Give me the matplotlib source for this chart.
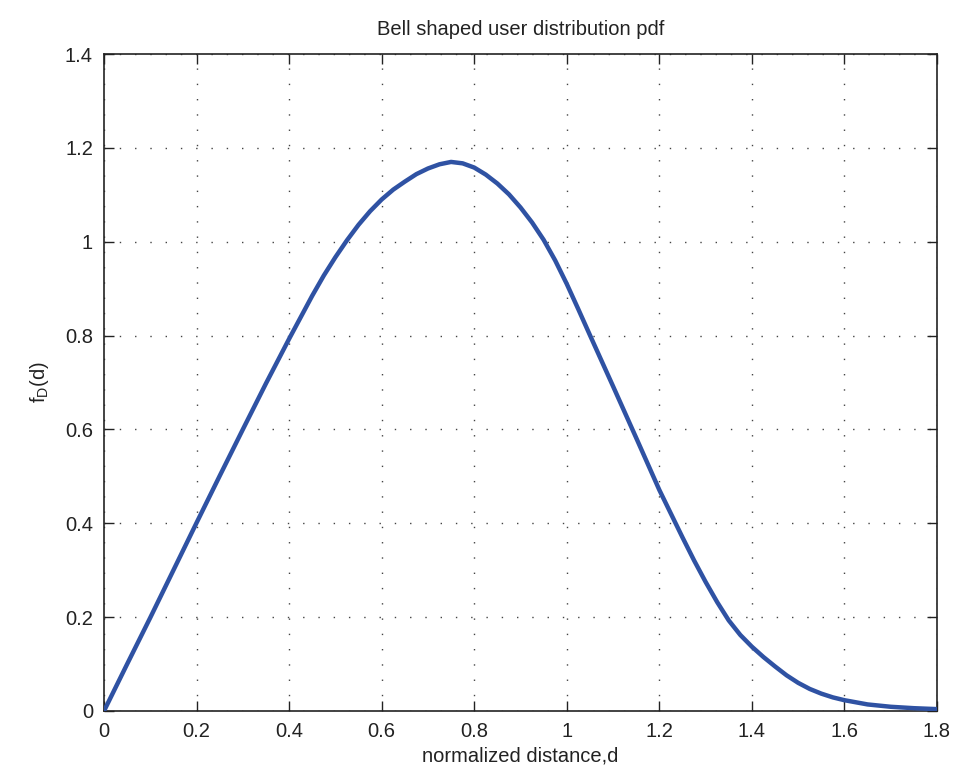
import matplotlib
matplotlib.use("Agg")
import matplotlib.pyplot as plt

# values (finer steps where it bends most)
DIST = [0.00, 0.05, 0.10, 0.15, 0.20, 0.25, 0.30, 0.35, 0.40, 0.45,
        0.475, 0.50, 0.525, 0.55, 0.575, 0.60, 0.625, 0.65, 0.675, 0.70,
        0.725, 0.75, 0.775, 0.80, 0.825, 0.85, 0.875, 0.90, 0.925, 0.95,
        0.975, 1.00, 1.025, 1.05, 1.10, 1.15, 1.20, 1.25, 1.275, 1.30,
        1.325, 1.35, 1.375, 1.40, 1.425, 1.45, 1.475, 1.50, 1.525, 1.55,
        1.575, 1.60, 1.65, 1.70, 1.75, 1.80]
PDF = [0.000, 0.100, 0.199, 0.300, 0.401, 0.501, 0.600, 0.698, 0.793, 0.885,
       0.928, 0.967, 1.003, 1.036, 1.065, 1.090, 1.111, 1.128, 1.144, 1.156,
       1.165, 1.170, 1.167, 1.158, 1.143, 1.124, 1.101, 1.073, 1.041, 1.004,
       0.960, 0.910, 0.856, 0.801, 0.692, 0.582, 0.471, 0.370, 0.321, 0.275,
       0.232, 0.193, 0.162, 0.137, 0.115, 0.095, 0.076, 0.060, 0.047, 0.037,
       0.029, 0.023, 0.014, 0.009, 0.006, 0.004]

X_TICKS = [0, 0.2, 0.4, 0.6, 0.8, 1.0, 1.2, 1.4, 1.6, 1.8]
X_LABELS = ["0", "0.2", "0.4", "0.6", "0.8", "1", "1.2", "1.4", "1.6", "1.8"]
Y_TICKS = [0, 0.2, 0.4, 0.6, 0.8, 1.0, 1.2, 1.4]
Y_LABELS = ["0", "0.2", "0.4", "0.6", "0.8", "1", "1.2", "1.4"]

INK = "#222222"
C_LINE = "#2f52a3"

plt.rcParams["font.family"] = ["Liberation Sans", "DejaVu Sans"]
plt.rcParams["mathtext.default"] = "regular"

fig = plt.figure(figsize=(9.6, 7.82), dpi=100, facecolor="white")
ax = fig.add_axes([104 / 960, 1 - 711 / 782, (937 - 104) / 960, (711 - 54) / 782])

ax.plot(DIST, PDF, color=C_LINE, lw=3.2, solid_capstyle="round",
        solid_joinstyle="round", zorder=5)

ax.set_xlim(0, 1.8)
ax.set_ylim(0, 1.4)
ax.set_xticks(X_TICKS)
ax.set_xticklabels(X_LABELS)
ax.set_yticks(Y_TICKS)
ax.set_yticklabels(Y_LABELS)
ax.tick_params(direction="in", length=7, width=1, colors=INK, labelsize=14.5,
               top=True, right=True, pad=8)
ax.grid(True, color="#444444", lw=1.0, ls=(0, (1, 10)))
ax.set_axisbelow(True)
for spine in ax.spines.values():
    spine.set_color(INK)
    spine.set_linewidth(1.2)

ax.set_title("Bell shaped user distribution pdf", fontsize=14.5, color=INK, pad=14)
ax.set_xlabel("normalized distance,d", fontsize=14.5, color=INK, labelpad=4)
ax.set_ylabel(r"$\mathregular{f_D(d)}$", fontsize=14.5, color=INK, labelpad=10)

fig.savefig("out.png", dpi=100, facecolor="white")
